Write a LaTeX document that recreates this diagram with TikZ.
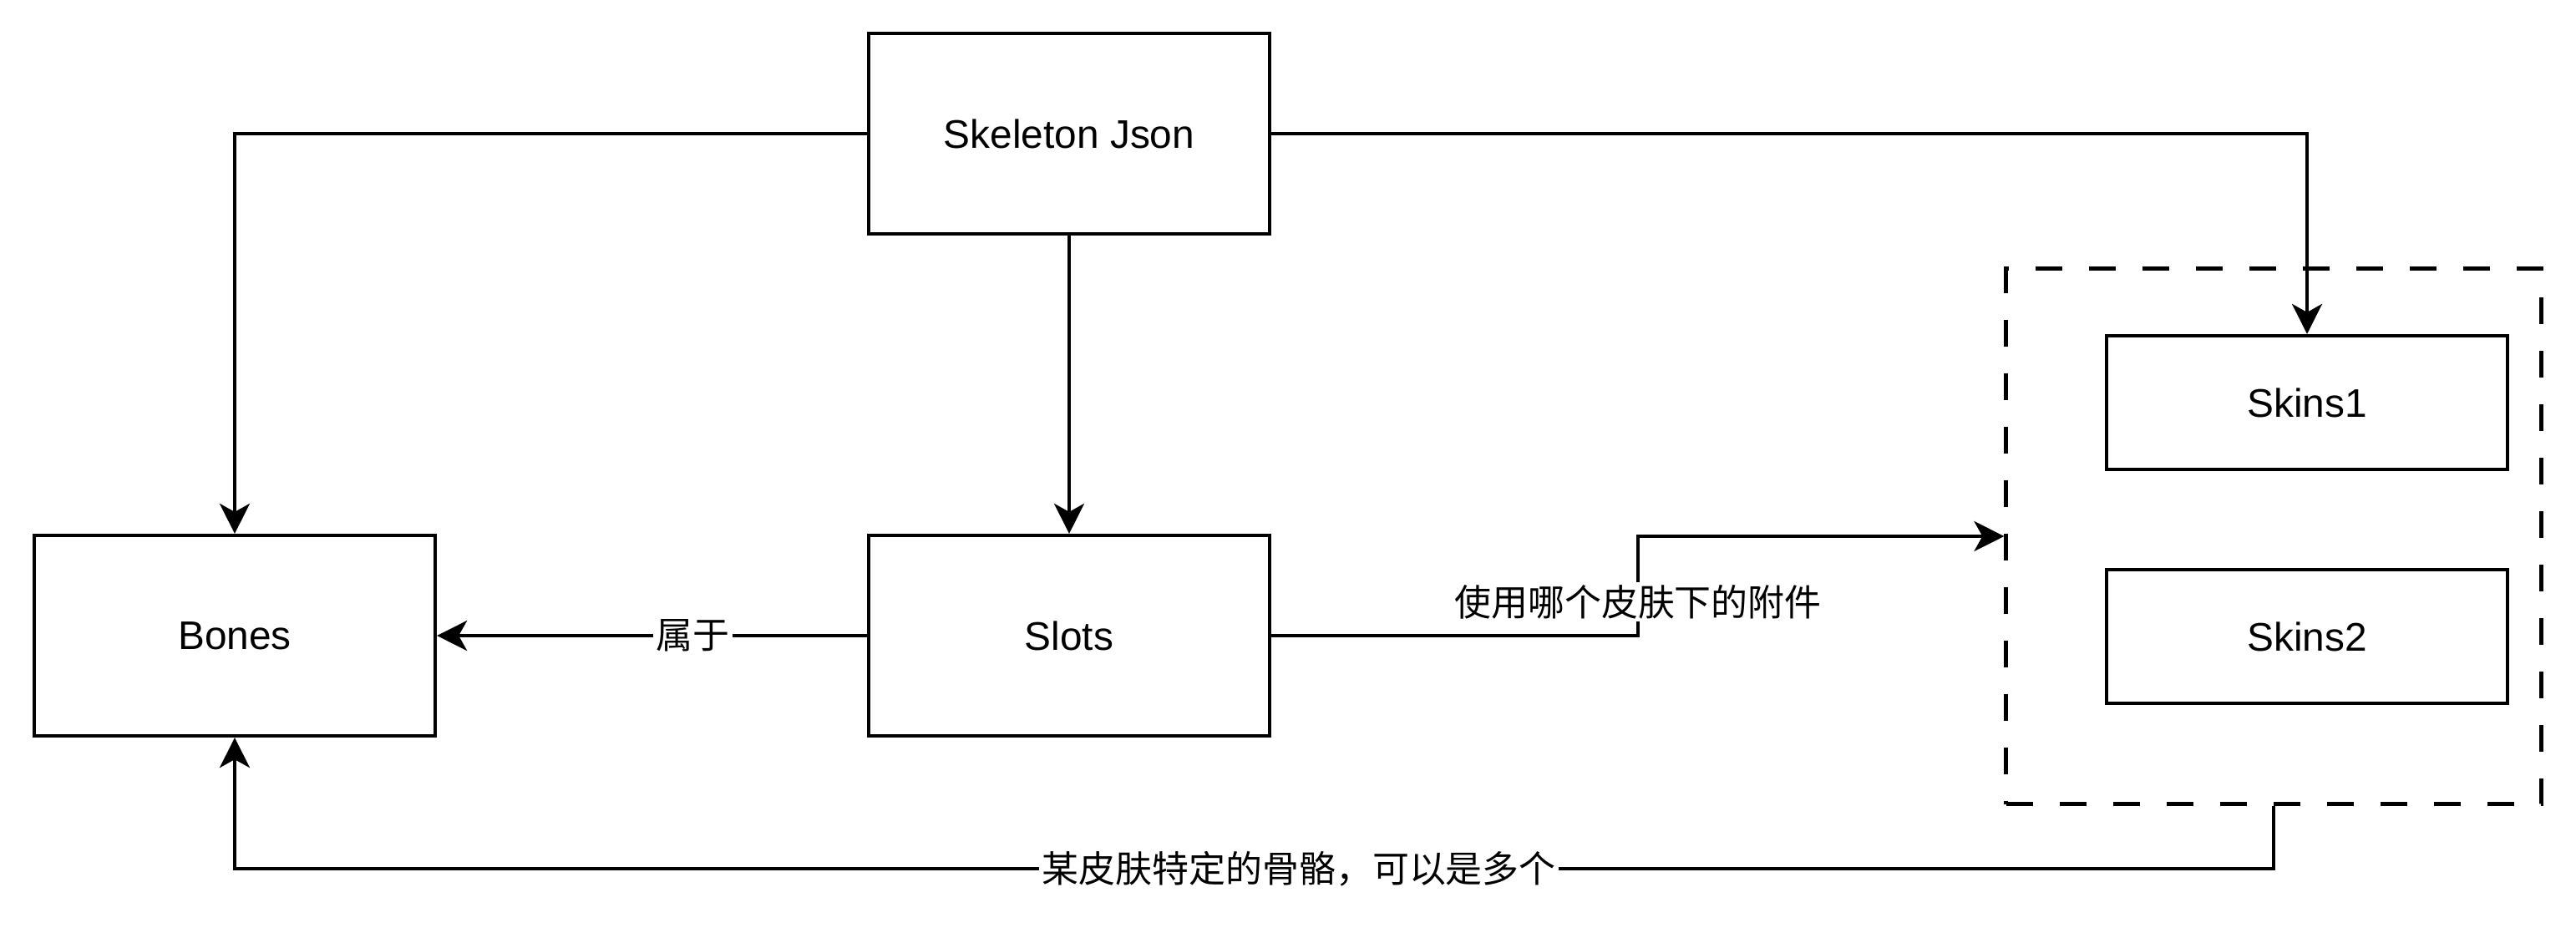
\documentclass[tikz,border=0pt]{standalone}
\usepackage{fontspec}
\setmainfont{Liberation Sans}
\newfontfamily\cjk{Noto Sans CJK SC}
\usepackage{tikz}
\usetikzlibrary{arrows.meta}

\begin{document}
\begin{tikzpicture}[line width=1.2pt, >={Stealth[length=3.6mm, width=3.6mm, inset=1mm]},
	every node/.style={font=\fontsize{13.6}{16}\selectfont},
	box/.style={rectangle, draw=black, minimum width=4.8cm, minimum height=2.4cm},
	lbl/.style={fill=white, inner sep=1pt, font=\cjk\fontsize{12.5}{15}\selectfont}]
			\useasboundingbox (0,0) rectangle (30.84,-11.16);
			\node[box] (json) at (12.80,-1.60){Skeleton Json};
			\node[box] (bones) at (2.81,-7.61){Bones};
			\node[box] (slots) at (12.80,-7.61){Slots};
			\node[box, minimum height=1.6cm] (skins1) at (27.62,-4.82){Skins1};
			\node[box, minimum height=1.6cm] (skins2) at (27.62,-7.62){Skins2};
			\node[draw=black, dash pattern=on 3.2mm off 3.2mm, minimum width=6.41cm, minimum height=6.41cm] (skins) at (27.22,-6.42){};
			\coordinate (bend) at (19.61,-6.42);
			\coordinate (low) at (27.22,-10.40);
			
			\draw[->] (json.west) -| (bones.north);
			\draw[->] (json.east) -| (skins1.north);
			\draw[->] (json) -- (slots);
			\draw[->] (slots) -- node[lbl, pos=0.405]{属于} (bones);
			\draw[->] (slots.east) -| node[lbl, pos=0.67]{使用哪个皮肤下的附件} (bend) -- (skins.west);
			\draw[->] (skins.south) -- (low) -| node[lbl, pos=0.239]{某皮肤特定的骨骼，可以是多个} (bones.south);
			\end{tikzpicture}
\end{document}
